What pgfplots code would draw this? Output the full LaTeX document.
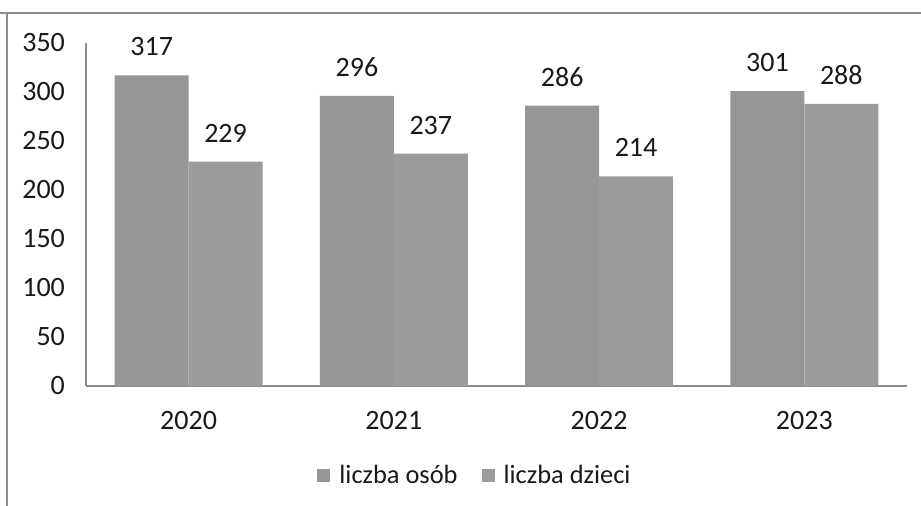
\documentclass[border=0pt]{standalone}
\usepackage{fontspec}
\setmainfont{Carlito}
\usepackage{pgfplots}
\pgfplotsset{compat=1.18}
\definecolor{barA}{RGB}{150,150,150}
\definecolor{barB}{RGB}{156,156,156}
\definecolor{txt}{RGB}{25,25,25}
\definecolor{frame}{RGB}{140,140,140}

\begin{document}
\begin{tikzpicture}
\useasboundingbox (-43pt,-60pt) rectangle (417.5pt,193pt);
\draw[frame, line width=0.6pt] (-43pt,186.5pt) -- (417.5pt,186.5pt);
\draw[frame, line width=0.6pt] (-39.5pt,186.5pt) -- (-39.5pt,-60pt);
\begin{axis}[
    at={(0,0)}, anchor=south west,
    scale only axis,
    width=410.5pt, height=171.5pt,
    ybar=0pt,
    bar width=0.36,
    xmin=-0.5, xmax=3.5,
    ymin=0, ymax=350,
    ytick={0,50,...,350},
    xtick={0,1,2,3},
    xticklabels={2020,2021,2022,2023},
    axis lines*=left,
    axis line style={-, draw=frame, line width=0.6pt},
    major tick length=0pt,
    /pgf/number format/assume math mode=true,
    tick label style={font=\fontsize{14}{16}\selectfont, text=txt},
    yticklabel style={xshift=-7pt},
    xticklabel style={yshift=-9pt},
    nodes near coords,
    nodes near coords style={font=\fontsize{14}{16}\selectfont, text=txt, yshift=6.2pt},
    legend style={at={(0.475,-0.262)}, anchor=center, draw=none,
        font=\fontsize{13.2}{15}\selectfont, text=txt,
        legend columns=2, column sep=0pt,
        /tikz/every odd column/.append style={column sep=2.5pt},
        /tikz/every even column/.append style={column sep=10pt}},
    legend image code/.code={\fill[#1] (0pt,-3.25pt) rectangle (6.5pt,3.25pt);},
]
\addplot[fill=barA, draw=none] coordinates {(0,317) (1,296) (2,286) (3,301)};
\addplot[fill=barB, draw=none] coordinates {(0,229) (1,237) (2,214) (3,288)};
\legend{liczba osób, liczba dzieci}
\end{axis}
\end{tikzpicture}
\end{document}
